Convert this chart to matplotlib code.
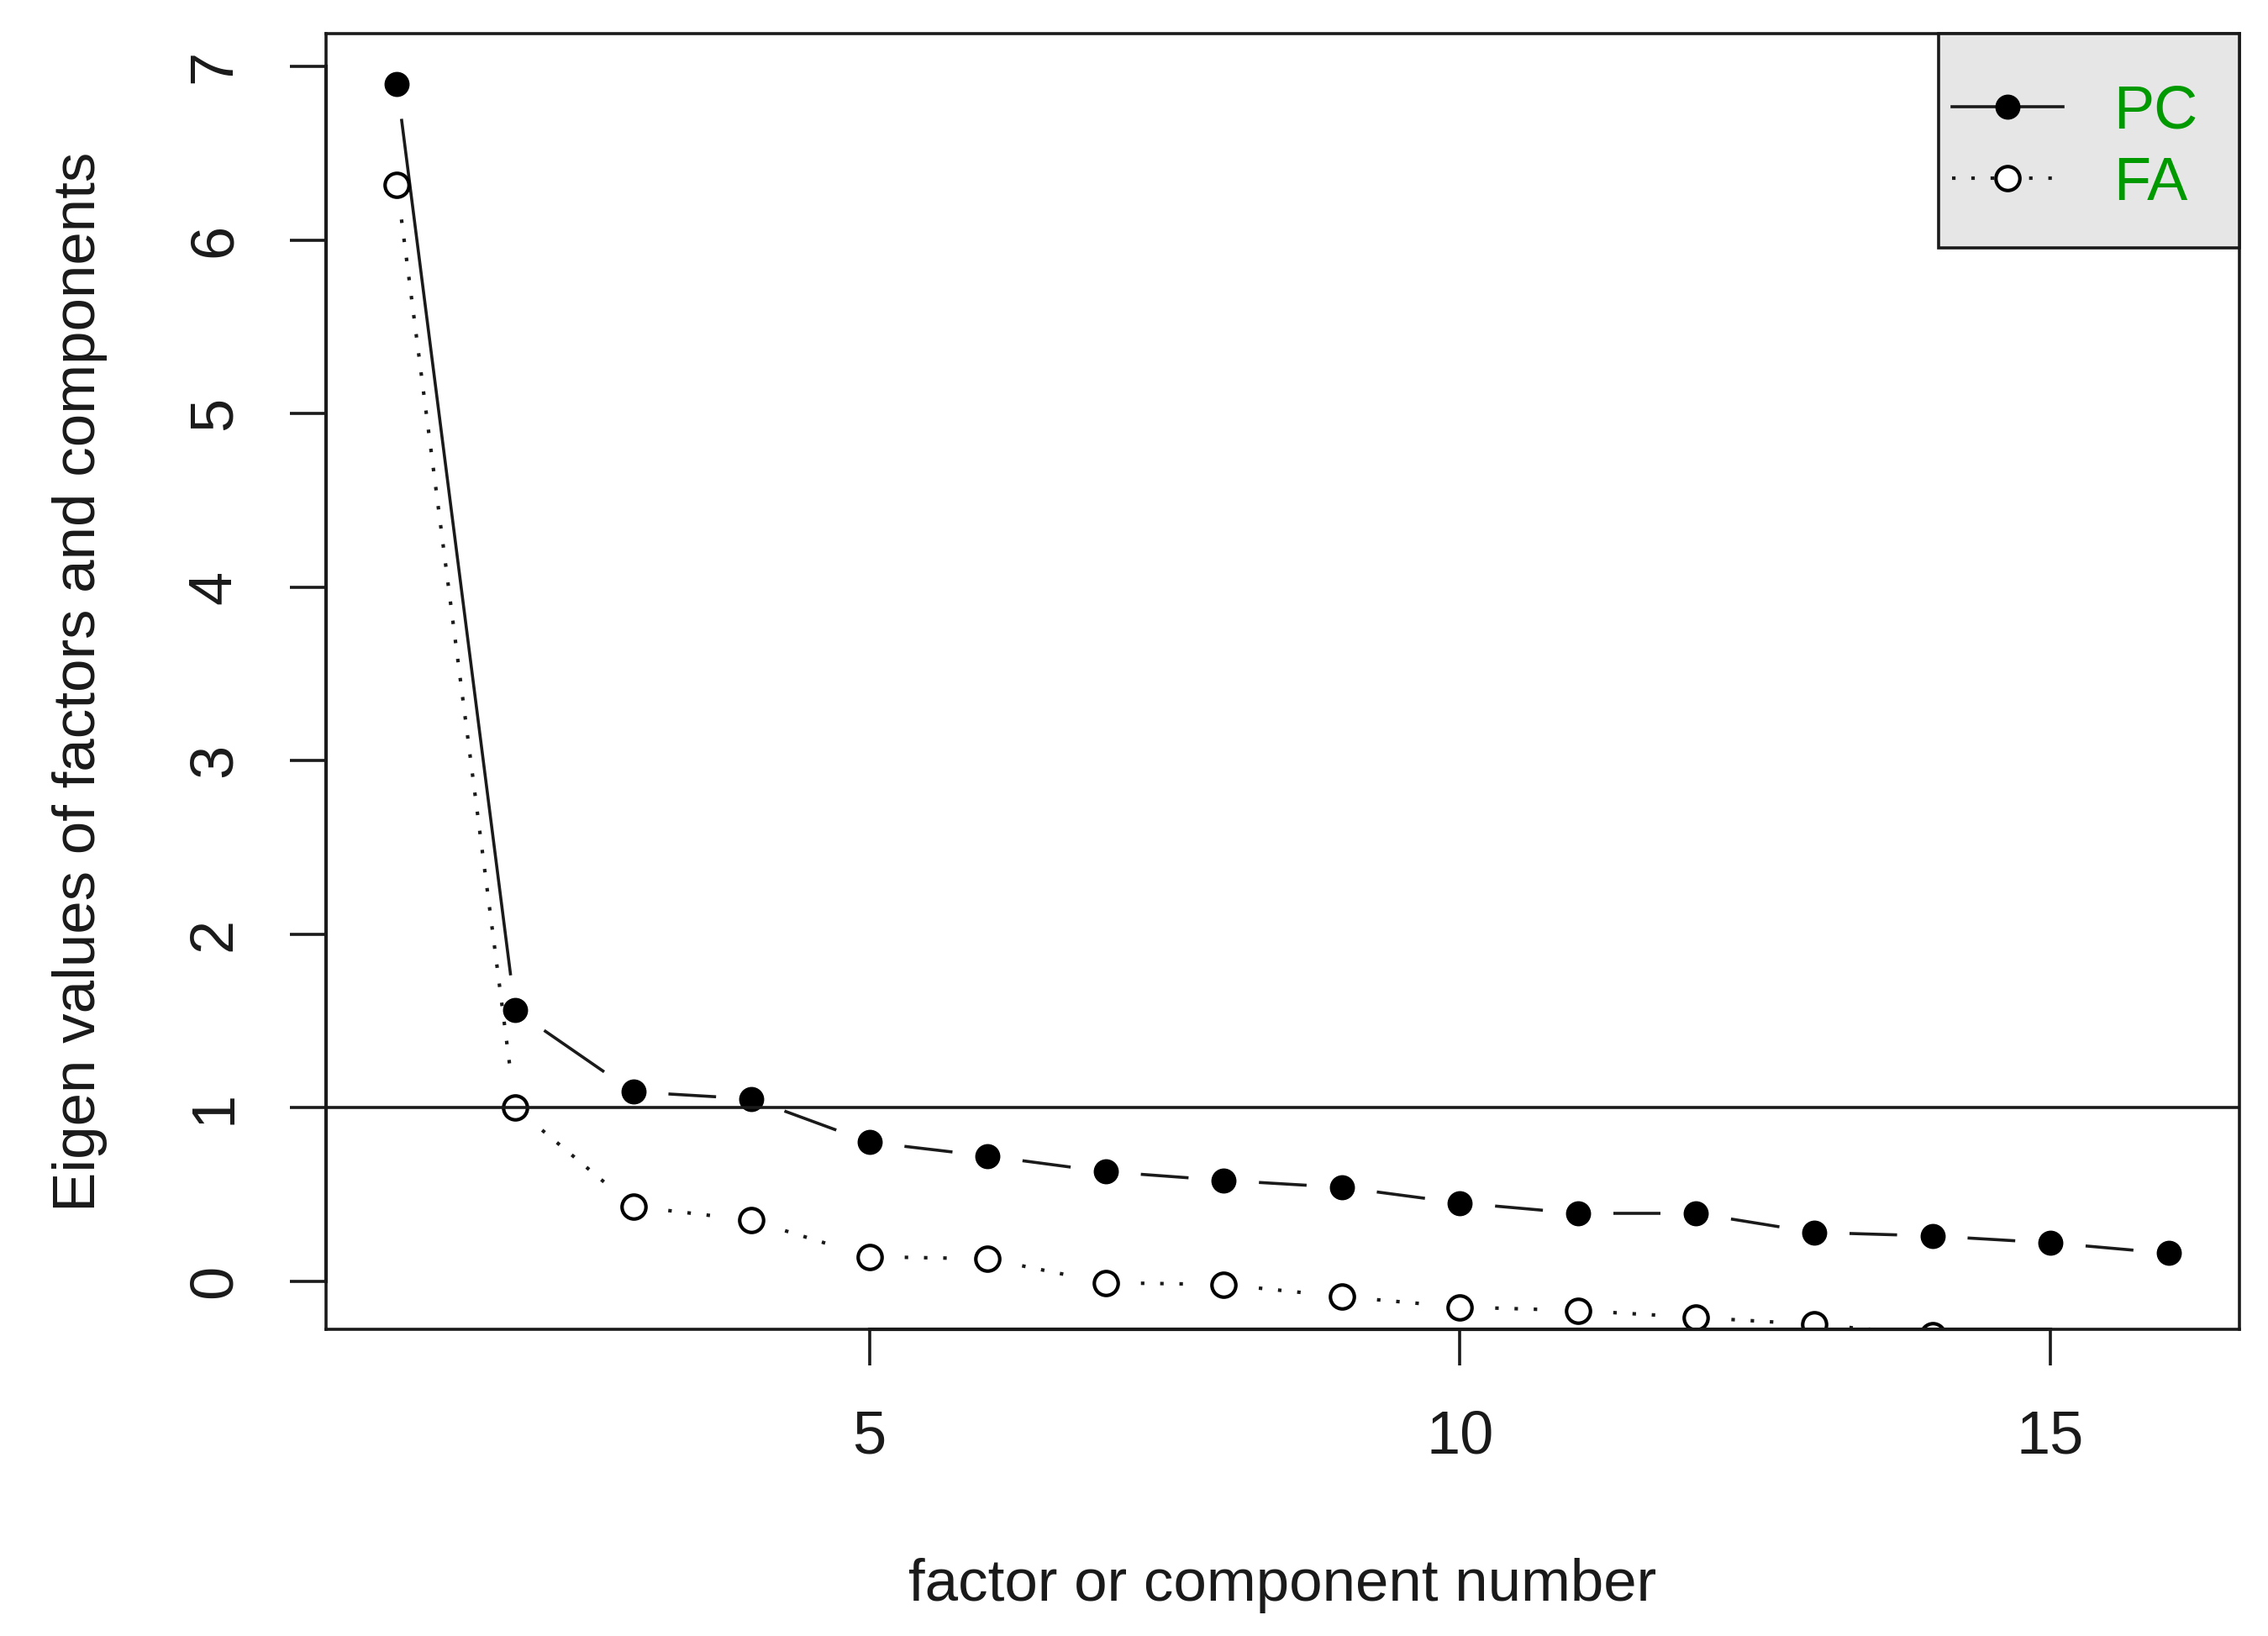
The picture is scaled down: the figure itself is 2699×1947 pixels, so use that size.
import numpy as np
import matplotlib
matplotlib.use("Agg")
import matplotlib.pyplot as plt
from matplotlib.patches import Rectangle

plt.rcParams['font.family'] = ['Liberation Sans', 'DejaVu Sans']

# eigen values
factor_num = list(range(1, 17))
pc_values = [6.90, 1.56, 1.09, 1.05, 0.80, 0.72, 0.63, 0.58, 0.54, 0.45, 0.39, 0.39, 0.28, 0.26, 0.22, 0.16]
fa_values = [6.32, 1.00, 0.43, 0.35, 0.14, 0.128, -0.01, -0.02, -0.09, -0.15, -0.17, -0.21, -0.25, -0.31, -0.35, -0.40]
x_ticks = [5, 10, 15]
y_ticks = [0, 1, 2, 3, 4, 5, 6, 7]
series_names = ['PC', 'FA']

FS = 52
INK = '#1a1a1a'
GREEN = '#009a00'
LW = 2.6
dot_style = (0, (1, 4.5))
DOT_LW = 3.0
pc_mark = dict(marker='o', ms=20, mfc='black', mec='black', mew=1.5)
fa_mark = dict(marker='o', ms=20.5, mfc='white', mec='black', mew=3)


def gapped_lines(ax, xs, ys, gap_px, **kw):
    # R type="b": line pieces stop short of each point
    trans = ax.transData
    inv = trans.inverted()
    pts = trans.transform(np.column_stack([xs, ys]))
    for p0, p1 in zip(pts[:-1], pts[1:]):
        d = p1 - p0
        L = np.hypot(d[0], d[1])
        if L <= 2 * gap_px:
            continue
        u = d / L
        a = inv.transform(p0 + u * gap_px)
        b = inv.transform(p1 - u * gap_px)
        ax.plot([a[0], b[0]], [a[1], b[1]], **kw)


fig = plt.figure(figsize=(26.99, 19.47), dpi=100)
ax = fig.add_axes([0.1438, 0.1875, 0.8436, 0.7920])
ax.set_xlim(0.4, 16.6)
ax.set_ylim(-0.278, 7.19)

gapped_lines(ax, factor_num, pc_values, 42, color=INK, lw=LW, solid_capstyle='butt')
gapped_lines(ax, factor_num, fa_values, 42, color=INK, lw=DOT_LW, linestyle=dot_style)

ax.plot(factor_num, pc_values, linestyle='none', **pc_mark)
ax.plot(factor_num, fa_values, linestyle='none', **fa_mark)

ax.axhline(1, color=INK, lw=2.6)

for s in ax.spines.values():
    s.set_color(INK)
    s.set_linewidth(2.6)

# R style axis lines spanning the tick range
ax.plot([x_ticks[0], x_ticks[-1]], [0, 0], color=INK, lw=3.0,
        transform=ax.get_xaxis_transform(), clip_on=False)
ax.plot([0, 0], [y_ticks[0], y_ticks[-1]], color=INK, lw=3.0,
        transform=ax.get_yaxis_transform(), clip_on=False)

ax.set_xticks(x_ticks)
ax.set_yticks(y_ticks)
ax.tick_params(axis='both', direction='out', length=31, width=2.6, color=INK,
               labelsize=FS, labelcolor=INK)
ax.tick_params(axis='x', pad=38)
ax.tick_params(axis='y', pad=40, labelrotation=90)
for lab in ax.get_yticklabels():
    lab.set_va('center')

ax.set_xlabel('factor or component number', fontsize=51, color=INK)
ax.xaxis.label.set_va('baseline')
ax.xaxis.set_label_coords(0.5, -0.2095)
ax.set_ylabel('Eigen values of factors and components', fontsize=51, color=INK)
ax.yaxis.label.set_va('center')
ax.yaxis.set_label_coords(-0.1287, 0.5)

# legend box, drawn like R's legend() in the top right corner
ax.add_patch(Rectangle((0.8428, 0.8346), 0.1572, 0.1654, transform=ax.transAxes,
                       facecolor='#e6e6e6', edgecolor=INK, lw=2.6, clip_on=False, zorder=5))
rows_y = [0.9436, 0.8885]
line_kw = [dict(linestyle='-', lw=LW), dict(linestyle=dot_style, lw=DOT_LW)]
marks = [pc_mark, fa_mark]
for name, yy, lk, mk in zip(series_names, rows_y, line_kw, marks):
    ax.plot([0.8498, 0.9078], [yy, yy], transform=ax.transAxes, color=INK,
            clip_on=False, zorder=6, **lk)
    ax.plot([0.8788], [yy], transform=ax.transAxes, linestyle='none', clip_on=False, zorder=7, **mk)
    ax.text(0.934, yy, name, transform=ax.transAxes, ha='left', va='center_baseline',
            fontsize=FS, color=GREEN, zorder=8)

fig.savefig('out.png', dpi=100)
